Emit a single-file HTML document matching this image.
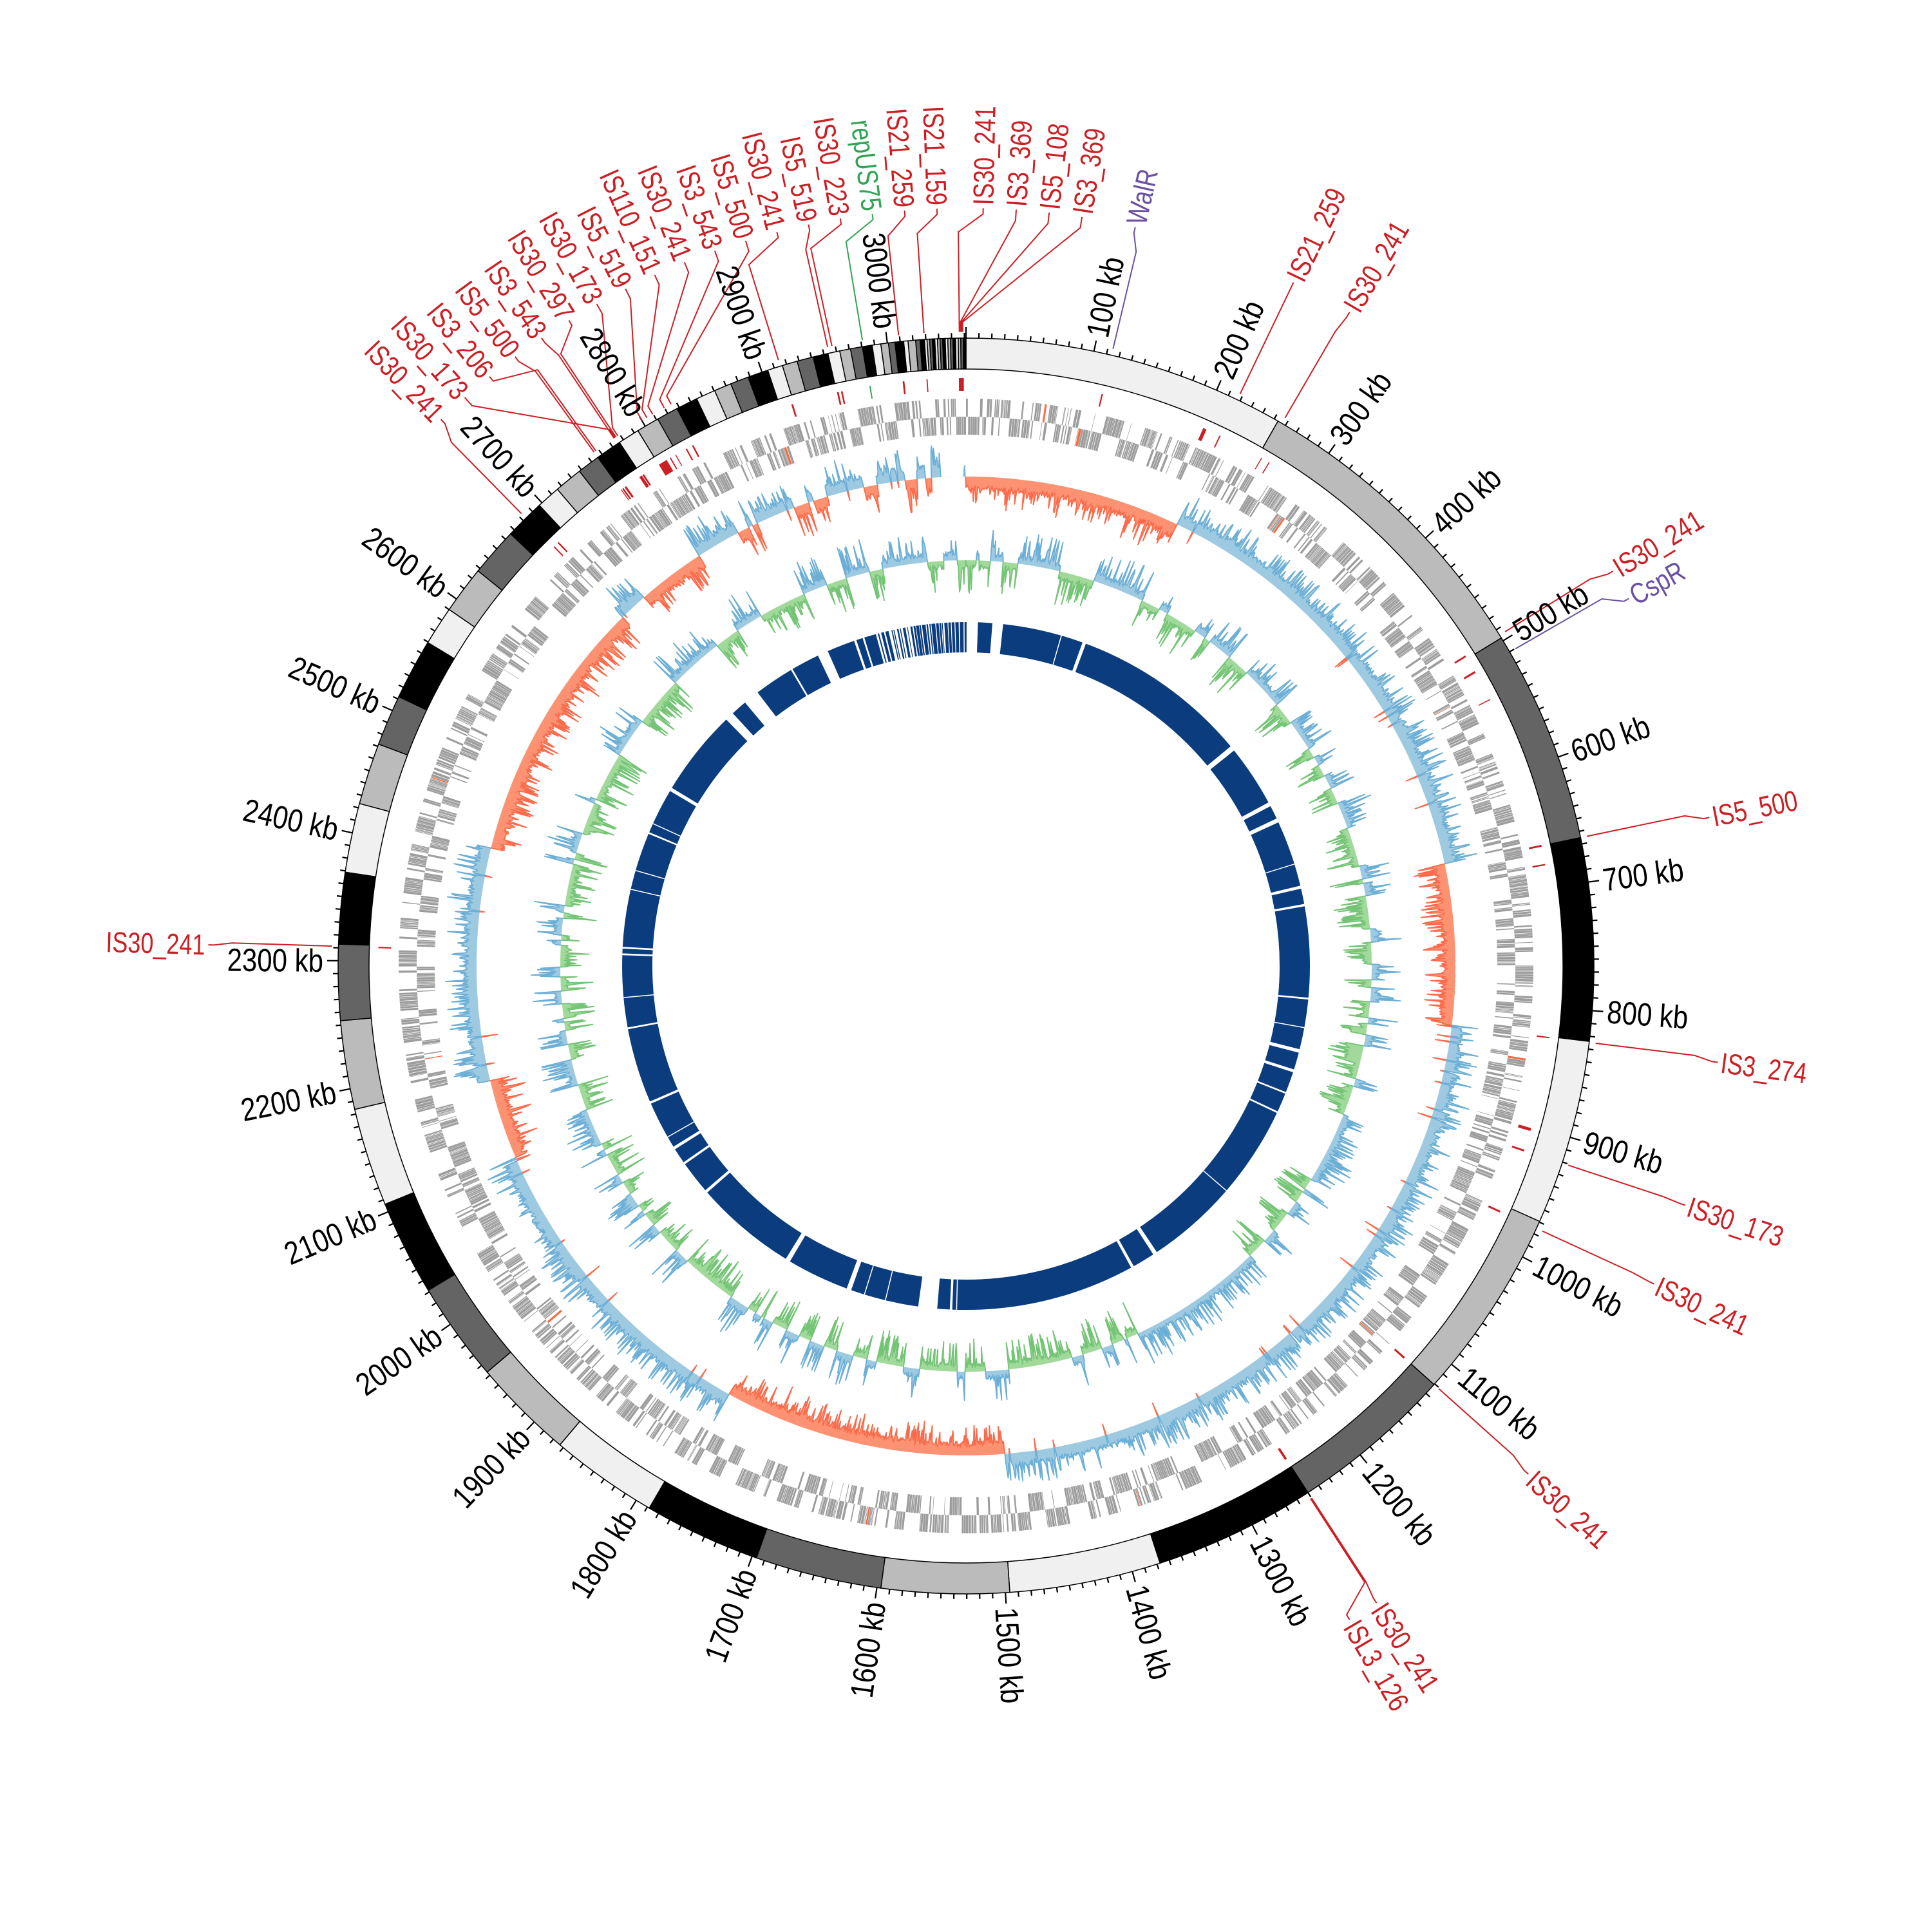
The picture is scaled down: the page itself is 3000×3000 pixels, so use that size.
<!DOCTYPE html>
<html><head><meta charset="utf-8">
<style>
html,body{margin:0;padding:0;background:#fff;}
svg{display:block}
text{font-family:"Liberation Sans Narrow","Liberation Sans",sans-serif;}
.tk{font-size:50px;fill:#000}
.is{font-size:45px;fill:#cc1f24}
.pu{font-size:45px;fill:#6a51a3}
.gr{font-size:45px;fill:#31a354}
</style></head><body>
<svg id="s" width="3000" height="3000" viewBox="0 0 3000 3000" xmlns="http://www.w3.org/2000/svg">
<rect width="3000" height="3000" fill="#fff"/>
<g id="tracks"></g>
<g id="lab">
<text class="tk">100 kb</text><text class="tk">200 kb</text><text class="tk">300 kb</text><text class="tk">400 kb</text><text class="tk">500 kb</text>
<text class="tk">600 kb</text><text class="tk">700 kb</text><text class="tk">800 kb</text><text class="tk">900 kb</text><text class="tk">1000 kb</text>
<text class="tk">1100 kb</text><text class="tk">1200 kb</text><text class="tk">1300 kb</text><text class="tk">1400 kb</text><text class="tk">1500 kb</text>
<text class="tk">1600 kb</text><text class="tk">1700 kb</text><text class="tk">1800 kb</text><text class="tk">1900 kb</text><text class="tk">2000 kb</text>
<text class="tk">2100 kb</text><text class="tk">2200 kb</text><text class="tk">2300 kb</text><text class="tk">2400 kb</text><text class="tk">2500 kb</text>
<text class="tk">2600 kb</text><text class="tk">2700 kb</text><text class="tk">2800 kb</text><text class="tk">2900 kb</text><text class="tk">3000 kb</text>

<text class="is" a="1.3" f="-0.6">IS30_241</text>
<text class="is" a="3.8" f="-0.5">IS3_369</text>
<text class="is" a="6.3" f="-0.4">IS5_108</text>
<text class="is" a="8.8" f="-0.3">IS3_369</text>
<text class="pu" a="12.9" f="13.4">WalR</text>
<text class="is" a="25.6" f="25.6">IS21_259</text>
<text class="is" a="30.4" f="30.2">IS30_241</text>
<text class="is" a="58.6" f="58.2">IS30_241</text>
<text class="pu" a="61.0" f="60.0">CspR</text>
<text class="is" a="78.7" f="78.2">IS5_500</text>
<text class="is" a="97.3" f="97.0">IS3_274</text>
<text class="is" a="108.4" f="108.3">IS30_173</text>
<text class="is" a="114.8" f="114.7">IS30_241</text>
<text class="is" a="132.1" f="131.8">IS30_241</text>
<text class="is" a="147.2" f="147.0">IS30_241</text>
<text class="is" a="149.6" f="147.1">ISL3_126</text>
<text class="is" a="271.6" f="271.8">IS30_241</text>

<text class="is" a="-2.2" f="-3.8">IS21_159</text>
<text class="is" a="-4.65" f="-6.1">IS21_259</text>
<text class="gr" a="-7.1" f="-9.4">repUS75</text>
<text class="is" a="-9.55" f="-12.2">IS30_223</text>
<text class="is" a="-12.0" f="-12.6">IS5_519</text>
<text class="is" a="-14.45" f="-17.2">IS30_241</text>
<text class="is" a="-16.9" f="-27.7">IS5_500</text>
<text class="is" a="-19.35" f="-28.4">IS3_543</text>
<text class="is" a="-21.8" f="-29.6">IS30_241</text>
<text class="is" a="-24.25" f="-30.2">IS110_151</text>
<text class="is" a="-26.7" f="-30.7">IS5_519</text>
<text class="is" a="-29.15" f="-33.3">IS30_173</text>
<text class="is" a="-31.6" f="-33.5">IS30_297</text>
<text class="is" a="-34.05" f="-33.7">IS3_543</text>
<text class="is" a="-36.5" f="-35.9">IS5_500</text>
<text class="is" a="-38.95" f="-35.7">IS3_206</text>
<text class="is" a="-41.4" f="-33.6">IS30_173</text>
<text class="is" a="-43.85" f="-44.5">IS30_241</text>
</g>
</svg>
<script>
(function(){
var C=1500,K=0.1176,NS='http://www.w3.org/2000/svg';
var T=document.getElementById('tracks');
function P(r,a){var t=a*Math.PI/180;return [C+r*Math.sin(t),C-r*Math.cos(t)];}
function f(n){return n.toFixed(1);}
function pt(r,a){var p=P(r,a);return f(p[0])+' '+f(p[1]);}
function el(tag,at){var e=document.createElementNS(NS,tag);for(var k in at)e.setAttribute(k,at[k]);T.appendChild(e);return e;}
function wedge(r1,r2,a1,a2){var lg=(a2-a1)>180?1:0;
 return 'M'+pt(r2,a1)+'A'+r2+' '+r2+' 0 '+lg+' 1 '+pt(r2,a2)+'L'+pt(r1,a2)+'A'+r1+' '+r1+' 0 '+lg+' 0 '+pt(r1,a1)+'Z';}
function quad(r1,r2,a1,a2){return 'M'+pt(r2,a1)+'L'+pt(r2,a2)+'L'+pt(r1,a2)+'L'+pt(r1,a1)+'Z';}
var s=12345;function rnd(){s|=0;s=s+0x6D2B79F5|0;var t=Math.imul(s^s>>>15,1|s);t=t+Math.imul(t^t>>>7,61|t)^t;return((t^t>>>14)>>>0)/4294967296;}

// ---- ideogram
var B=[0,29.8,58.5,78.2,96.9,114,131.8,147,162,176,187.8,199.5,210.3,220.3,229.7,238.9,247.7,256.8,265,272,278.6,285,290.7,295.4,301,304.6,309,313.5,317.2,319.4,322,324.1,326.5,328.5,330.6,332.6,334.6,336.4,338,339.7,341.6,343,344.4,345.9,347.3,348.4,349.4,350.5,351.4,352.2,352.9,353.5,354.3,354.7,355.4,355.8,356.2];
var w=(360-356.2)/16;for(var i=1;i<=16;i++)B.push(356.2+i*w);
var cols=['#f0f0f0','#bbbbbb','#646464','#000000'];
for(var i=0;i<B.length-1;i++){el('path',{d:wedge(927,975,B[i],B[i+1]),fill:cols[i%4],stroke:'#000','stroke-width':1.5});}
var td='';for(var k=0;k<=3060;k+=10){var a=k*K;var r2=(k%100==0)?992:983;td+='M'+pt(975,a)+'L'+pt(r2,a);}
el('path',{d:td,stroke:'#000','stroke-width':2.2,fill:'none'});

// ---- IS marks
var labs=document.querySelectorAll('#lab text');
var md='';var mg='';
for(var i=0;i<labs.length;i++){var t=labs[i];if(!t.getAttribute('f'))continue;var fa=parseFloat(t.getAttribute('f'));var wd=0.08+rnd()*0.12;
 if(t.getAttribute('class')=='gr')mg+=quad(893,913,fa-0.06,fa+0.06);else md+=quad(893,913,fa-wd/2,fa+wd/2);}
[[-31.5,0.9],[-35.5,0.2],[23.8,0.35],[31,0.1],[80,0.15],[106,0.3],[63,0.1],[-44,0.15]].forEach(function(q){md+=quad(893,913,q[0],q[0]+q[1]);});
el('path',{d:md,fill:'#cc1f24'});el('path',{d:mg,fill:'#31a354'});

// ---- gene track
var gd='',rd='';var a=0,st=rnd()<.5;
while(a<360){var end=a+0.3+rnd()*2.2;
 while(a<end&&a<360){var gw=0.04+rnd()*0.22;var row=(rnd()<0.88)?st:!st;var r1=row?853:825,r2=row?881:853;
  var q=quad(r1,r2,a,Math.min(a+gw,360));if(rnd()<0.012)rd+=q;else gd+=q;a+=gw+0.015+rnd()*0.04;}
 if(rnd()<0.12)a+=rnd()*0.8;st=!st;}
el('path',{d:gd,fill:'#9d9d9d'});el('path',{d:rd,fill:'#f46d43'});

// ---- histogram
function hist(base,vals,step,posFill,posStroke,negFill,negStroke,sc){
 var N=vals.length;
 ['p','n'].forEach(function(sg){
  var d='M'+pt(base,0),l='',pen=false;
  for(var i=0;i<N;i++){var v=vals[i];var vv=sg=='p'?Math.max(v,0):Math.min(v,0);var p=pt(base+vv*sc,i*step);d+='L'+p;
   if(vv!=0){l+=(pen?'L':'M'+pt(base,(i-0.5)*step)+'L')+p;pen=true;}else{if(pen)l+='L'+pt(base,(i-0.5)*step);pen=false;}}
  d+='L'+pt(base,360);for(var aa=359;aa>=0;aa-=1)d+='L'+pt(base,aa);d+='Z';
  el('path',{d:d,fill:sg=='p'?posFill:negFill,stroke:'none'});
  el('path',{d:l,fill:'none',stroke:sg=='p'?posStroke:negStroke,'stroke-width':1.8,'stroke-linejoin':'round'});
 });
}
var red=[[0,25.6],[78,97],[175.5,209],[247,256.5],[284,315.5],[319,327]];
var N=3600,step=0.1,vals=[],blk=1,bend=0;
for(var i=0;i<N;i++){var aa=i*step;var sg=1;
 for(var j=0;j<red.length;j++)if(aa>=red[j][0]&&aa<red[j][1])sg=-1;
 if(aa>=327&&aa<356){if(aa>=bend){blk=rnd()<0.5?1:-1;bend=aa+0.4+rnd()*1.5;}sg=blk;}
 var v=12+10*rnd()+(rnd()<0.3?rnd()*32:0);
 if(sg>0&&rnd()<0.02){vals.push(-(5+rnd()*20));continue;}
 if(aa>357&&aa<359.8)v=0;
 vals.push(sg*v);}
hist(760,vals,step,'#9ecae1','#6baed6','#fc9272','#fb6a4a',1);
vals=[];blk=1;bend=0;
for(var i=0;i<N;i++){var aa=i*step;if(aa>=bend){blk=rnd()<0.55?1:-1;bend=aa+0.3+rnd()*2;}
 var v=6+8*rnd()+(rnd()<0.35?rnd()*40:0);
 if(aa>99&&aa<104&&blk<0)v+=15;
 vals.push(blk*v);}
hist(630,vals,step,'#9ecae1','#6baed6','#a1d99b','#74c476',1);

// ---- inner ring
var gaps=[[-44.2,-42.7],[-40,-37.3],[-30.6,-30.3],[-25.5,-23.7],[-19,-18.6],[-17.5,-17.2],[0.1,2.0],[4.4,6.2],[19.8,20.4],[50.3,51.2],[61.6,62.3],[64.6,65.3],[76.5,77.0],[79.6,80],[95.3,95.6],[104,104.6],[107.5,108],[111.5,111.8],[115,115.3],[146.3,147],[150.8,151.3],[182.3,182.7],[184.8,188],[199.5,200.3],[210.8,211.6],[228.8,229.3],[234.8,235.2],[237.8,238.3],[246.4,246.8],[259.4,259.7],[271.8,272.1],[272.9,273.2],[292.6,292.9],[300.6,301.2]];
var ir='';
var x=-15.6;while(x<0.1){var bw=0.12+rnd()*0.5;if(x>-7.3)bw=0.1+rnd()*0.6;var e=Math.min(x+bw,0.1);ir+=wedge(487,534,x,e);x=e+0.08+rnd()*(x>-7.3?0.2:0.45);}
var allg=gaps.map(function(g){return [g[0]<0?g[0]+360:g[0],g[1]<0?g[1]+360:g[1]];}).filter(function(g){return g[0]>=2;});
allg.push([344.4,360]);allg.sort(function(p,q){return p[0]-q[0];});
var cur=2.0;allg.forEach(function(g){if(g[0]>cur)ir+=wedge(487,534,cur,g[0]);cur=Math.max(cur,g[1]);});
el('path',{d:ir,fill:'#0b3c7d'});
var wl='';for(var i=0;i<14;i++){var aa=rnd()*360;wl+='M'+pt(487,aa)+'L'+pt(534,aa);}
el('path',{d:wl,stroke:'#fff','stroke-width':1.5,fill:'none'});

// ---- labels & lines
var ld={};
for(var i=0;i<labs.length;i++){var t=labs[i];var cls=t.getAttribute('class');var al,R,sx;
 if(cls=='tk'){al=parseInt(t.textContent)*K;R=998;sx=0.84;}else{al=parseFloat(t.getAttribute('a'));R=1182;sx=0.8;}
 var an=((al%360)+360)%360;var p=P(R,an);
 var rot=an<180?(an-90):(an+90);
 t.setAttribute('transform','translate('+f(p[0])+','+f(p[1])+') rotate('+rot.toFixed(2)+') scale('+sx+',1)');
 t.setAttribute('text-anchor',an<180?'start':'end');
 t.setAttribute('dominant-baseline','central');
 if(cls!='tk'){var fa=parseFloat(t.getAttribute('f'));var col=cls=='is'?'#cc1f24':(cls=='pu'?'#6a51a3':'#31a354');
  var d;if(Math.abs(al-fa)<3.5)d='M'+pt(985,fa)+'L'+pt(1140,fa)+'L'+pt(1168,al)+'L'+pt(1177,al);
  else d='M'+pt(985,fa)+'L'+pt(1000,fa)+'L'+pt(1160,al)+'L'+pt(1177,al);
  ld[col]=(ld[col]||'')+d;}
}
for(var c in ld)el('path',{d:ld[c],stroke:c,'stroke-width':2,fill:'none'});
})();
</script>
</body></html>
